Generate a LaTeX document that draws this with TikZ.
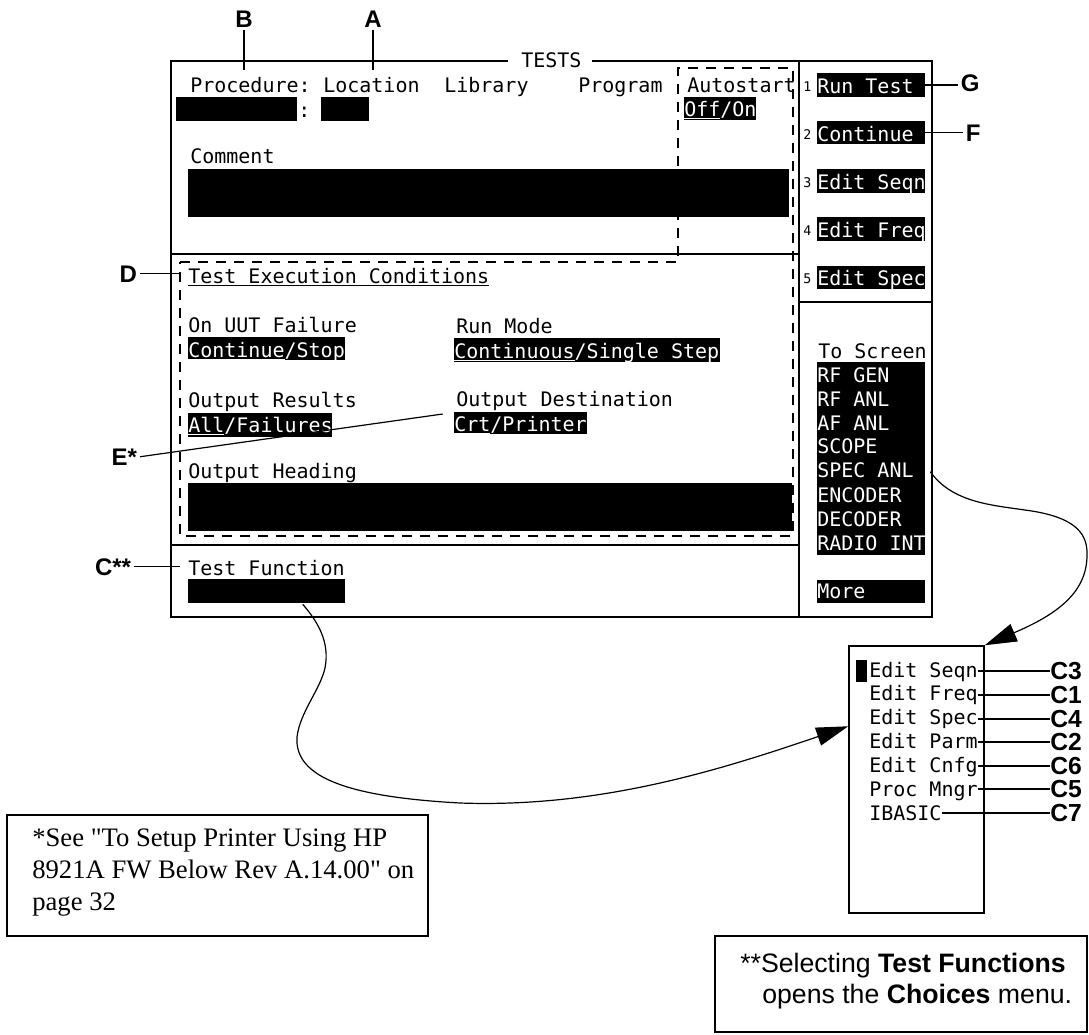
\documentclass[tikz,border=0pt]{standalone}
\usepackage{fontspec}
\setmainfont{Liberation Serif}
\newfontfamily\fnfont{Liberation Serif}
\newfontfamily\scrfont{DejaVu Sans Mono}
\newfontfamily\lblfont{Liberation Sans}
\usetikzlibrary{arrows.meta,calc,fit}
\tikzset{
  scr/.style={font=\scrfont\fontsize{15}{18}\selectfont, inner sep=0pt, anchor=base west},
  scrw/.style={scr, text=white},
  digit/.style={font=\scrfont\fontsize{10}{12}\selectfont, inner sep=0pt, anchor=base west},
  blk/.style={fill=black, draw=none, inner sep=0pt},
  frame/.style={line width=1.1pt},
  dbox/.style={line width=1.1pt, dash pattern=on 7.5pt off 6pt},
  lbl/.style={font=\lblfont\bfseries\fontsize{18}{21}\selectfont, inner sep=2pt},
  clbl/.style={font=\lblfont\bfseries\fontsize{18.5}{22}\selectfont, inner sep=0pt, anchor=west},
  lead/.style={line width=0.9pt},
  curve/.style={line width=0.9pt, -{Triangle[length=24pt,width=14pt]}},
  fn/.style={font=\fnfont\fontsize{20}{24}\selectfont, inner sep=0pt, anchor=base west},
  note/.style={font=\lblfont\fontsize{20}{24}\selectfont, inner sep=0pt, anchor=base west},
  outbox/.style={draw, line width=1.5pt, inner sep=0pt},
}
\begin{document}
\begin{tikzpicture}[x=0.75pt,y=-0.75pt]
\useasboundingbox (0,0) rectangle (1089,1035);

% ---------- screen frame ----------
\draw[frame] (508,61) -- (171,61) -- (171,617) -- (932,617) -- (932,61) -- (592,61);
\node[scr] (title) at (521,67) {TESTS};
\draw[frame] (799,61) -- (799,617);
\draw[frame] (171,254) -- (799,254);
\draw[frame] (171,545) -- (799,545);
\draw[frame] (799,302) -- (932,302);

% dashed outline (Autostart + Test Execution Conditions)
\draw[dbox] (180,262) -- (678,262) -- (678,68) -- (793,68) -- (793,536) -- (180,536) -- cycle;
\coordinate (dl) at (180,262);

% ---------- top panel ----------
\node[scr] (proc) at (190,92) {Procedure:};
\node[scr] (loc) at (323,92) {Location};
\node[scr] (lib) at (444,92) {Library};
\node[scr] (prog) at (578,92) {Program};
\node[scr] (auto) at (687,92) {Autostart};
\node[blk, fit={(176,97)(297,121)}] (procbox) {};
\node[scr] (colon) at (298,117) {:};
\node[blk, fit={(321,97)(369,121)}] (locbox) {};
\node[blk, fit={(684,97)(756,120)}] (offon) {};
\node[scrw] (offont) at (684,116) {\underline{Off}/On};
\node[scr] (comment) at (190,163) {Comment};
\node[blk, fit={(188,169)(789,217)}] (combox) {};

% ---------- middle panel ----------
\node[scr] (tec) at (188,283) {\underline{Test Execution Conditions}};
\node[scr] (uut) at (188,332) {On UUT Failure};
\node[blk, fit={(188,337)(345,360)}] (cs) {};
\node[scrw] (cst) at (188,357) {\underline{Continue}/Stop};
\node[scr] (rm) at (456,333) {Run Mode};
\node[blk, fit={(454,338)(720,362)}] (cont) {};
\node[scrw] (contt) at (454,358) {\underline{Continuous}/Single Step};
\node[scr] (ores) at (188,407) {Output Results};
\node[blk, fit={(188,413)(332,437)}] (allf) {};
\node[scrw] (allft) at (188,432) {\underline{All}/Failures};
\node[scr] (odest) at (456,406) {Output Destination};
\node[blk, fit={(454,412)(587,434)}] (crt) {};
\node[scrw] (crtt) at (454,431) {\underline{Crt}/Printer};
\node[scr] (ohead) at (188,478) {Output Heading};
\node[blk, fit={(188,483)(792,531)}] (ohbox) {};

% ---------- bottom panel ----------
\node[scr] (tftext) at (188,575) {Test Function};
\node[blk, fit={(188,579)(345,603)}] (tfbox) {};

% ---------- softkeys ----------
\node[blk, fit={(817,73)(925,97)}] (sk1) {};
\node[scrw] (sk1t) at (817,93) {Run Test};
\node[digit] (d1) at (803,91) {1};
\node[blk, fit={(817,121)(925,144)}] (sk2) {};
\node[scrw] (sk2t) at (817,141) {Continue};
\node[digit] (d2) at (803,139) {2};
\node[blk, fit={(817,169)(925,193)}] (sk3) {};
\node[scrw] (sk3t) at (817,189) {Edit Seqn};
\node[digit] (d3) at (803,187) {3};
\node[blk, fit={(817,217)(925,241)}] (sk4) {};
\node[scrw] (sk4t) at (817,237) {Edit Freq};
\node[digit] (d4) at (803,235) {4};
\node[blk, fit={(817,266)(925,289)}] (sk5) {};
\node[scrw] (sk5t) at (817,285) {Edit Spec};
\node[digit] (d5) at (803,283) {5};

\node[scr] (tos) at (818,358) {To Screen};
\node[blk, fit={(817,362)(925,555)}] (tolist) {};
\node[scrw] (ts1) at (817,382) {RF GEN};
\node[scrw] (ts2) at (817,406) {RF ANL};
\node[scrw] (ts3) at (817,430) {AF ANL};
\node[scrw] (ts4) at (817,453) {SCOPE};
\node[scrw] (ts5) at (817,477) {SPEC ANL};
\node[scrw] (ts6) at (817,502) {ENCODER};
\node[scrw] (ts7) at (817,526) {DECODER};
\node[scrw] (ts8) at (817,550) {RADIO INT};
\node[blk, fit={(817,580)(925,603)}] (more) {};
\node[scrw] (moret) at (817,598) {More};

% ---------- labels ----------
\node[lbl, anchor=base] (lB) at (244,27) {B};
\node[lbl, anchor=base] (lA) at (373,27) {A};
\draw[lead] (lB.south) -- ++(0,40);
\draw[lead] (lA.south) -- ++(0,40);
\node[lbl, anchor=base west] (lG) at (958,91) {G};
\node[lbl, anchor=base west] (lF) at (963,141) {F};
\draw[lead] (sk1.east) -- (sk1.east -| lG.west);
\draw[lead] (sk2.east) -- (sk2.east -| lF.west);
\node[lbl, anchor=base east] (lD) at (140,282) {D};
\draw[lead] (lD.east) -- (lD.east -| dl);
\node[lbl, anchor=base east] (lE) at (140,465) {E*};
\draw[lead] (lE.east) -- ($(crt.west)+(-11,-9)$);
\node[lbl, anchor=base east] (lC) at (134,575) {C**};
\draw[lead] (lC.east) -- (lC.east -| dl);

% ---------- choices menu ----------
\node[draw, line width=1.1pt, inner sep=0pt, fit={(849,646)(984,913)}] (choices) {};
\fill (856,660) rectangle (867,682);
\node[scr] (ch1) at (869,677) {Edit Seqn};
\node[scr] (ch2) at (869,700) {Edit Freq};
\node[scr] (ch3) at (869,724) {Edit Spec};
\node[scr] (ch4) at (869,748) {Edit Parm};
\node[scr] (ch5) at (869,772) {Edit Cnfg};
\node[scr] (ch6) at (869,796) {Proc Mngr};
\node[scr] (ch7) at (869,820) {IBASIC};
\node[clbl] (k1) at (1050,671) {C3};
\node[clbl] (k2) at (1050,695) {C1};
\node[clbl] (k3) at (1050,719) {C4};
\node[clbl] (k4) at (1050,742) {C2};
\node[clbl] (k5) at (1050,766) {C6};
\node[clbl] (k6) at (1050,789) {C5};
\node[clbl] (k7) at (1050,813) {C7};
\foreach \i in {1,...,7} { \draw[lead] (ch\i.east |- k\i.west) -- (k\i.west); }

% ---------- curved arrows ----------
\coordinate (c1a) at ($(tolist.north east)+(5,110)$);
\draw[curve] (c1a) .. controls (952,502) and (990,505) .. (1025,510)
  .. controls (1070,516) and (1088,530) .. (1087,555)
  .. controls (1087,592) and (1058,614) .. (choices.north east);
\coordinate (c2a) at ($(tfbox.south west)+(115,1)$);
\draw[curve] (c2a) .. controls (318,622) and (330,642) .. (325,668)
  .. controls (320,690) and (300,712) .. (297,737)
  .. controls (294,778) and (350,797) .. (460,803)
  .. controls (600,808) and (720,770) .. ($(choices.north west)+(0,81)$);

% ---------- footnote boxes ----------
\node[outbox, fit={(7,815)(428,936)}] (fnbox) {};
\node[fn] (fn1) at (32,846) {*See "To Setup Printer Using HP};
\node[fn] (fn2) at (32,878) {8921A FW Below Rev A.14.00" on};
\node[fn] (fn3) at (32,910) {page 32};
\node[outbox, fit={(715,936)(1087,1032)}] (notebox) {};
\node[note] (nt1) at (740,972) {**Selecting \textbf{Test Functions}};
\node[note] (nt2) at (762,1003) {opens the \textbf{Choices} menu.};
\end{tikzpicture}
\end{document}
